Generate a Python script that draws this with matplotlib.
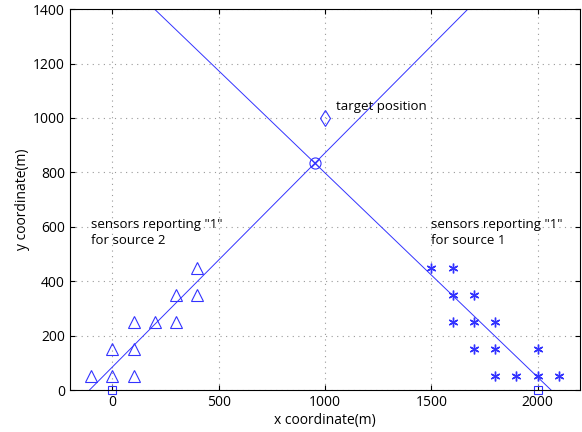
import matplotlib
matplotlib.use("Agg")
import matplotlib.pyplot as plt

# sensors reporting "1" for source 2 (triangles)
src2_x = [-100, 0, 100, 0, 100, 100, 200, 300, 300, 400, 400]
src2_y = [50, 50, 50, 150, 150, 250, 250, 250, 350, 350, 450]

# sensors reporting "1" for source 1 (stars)
src1_x = [1500, 1600, 1600, 1700, 1600, 1700, 1800, 1700, 1800, 2000, 1800, 1900, 2000, 2100]
src1_y = [450, 450, 350, 350, 250, 250, 250, 150, 150, 150, 50, 50, 50, 50]

# source positions (squares)
source_x = [0, 2000]
source_y = [0, 0]

target = (1000, 1000)
estimate = (952, 833)

# fitted lines (endpoints)
line2_x = [-108, 1672]
line2_y = [0, 1400]
line1_x = [198, 2063]
line1_y = [1400, 0]

blue = (0.2, 0.2, 1.0)

plt.rcParams['font.family'] = ['Open Sans', 'DejaVu Sans']
fig = plt.figure(figsize=(5.82, 4.32), dpi=100)
ax = fig.add_axes([0.120, 0.097, 0.877, 0.882])

ax.plot(line2_x, line2_y, '-', color=blue, lw=0.7)
ax.plot(line1_x, line1_y, '-', color=blue, lw=0.7)
ax.plot(src2_x, src2_y, '^', mfc='none', mec=blue, ms=8, mew=0.8, ls='none')
ax.plot(src1_x, src1_y, marker=(6, 2, 0), color=blue, ms=7, mew=1.0, ls='none')
ax.plot(source_x, source_y, 's', mfc='none', mec=blue, ms=6, mew=0.8, ls='none', clip_on=False)
ax.plot(*target, 'd', mfc='none', mec=blue, ms=8, mew=0.8)
ax.plot(*estimate, 'o', mfc='none', mec=blue, ms=8, mew=0.8)
ax.plot(*estimate, 'x', color=blue, ms=6, mew=0.8)

ax.text(1050, 1030, 'target position', fontsize=9.5)
ax.text(-100, 580, 'sensors reporting "1"\nfor source 2', fontsize=9.5, va='center', linespacing=1.3)
ax.text(1500, 580, 'sensors reporting "1"\nfor source 1', fontsize=9.5, va='center', linespacing=1.3)

ax.set_xlim(-200, 2200)
ax.set_ylim(0, 1400)
ax.set_xticks([0, 500, 1000, 1500, 2000])
ax.set_yticks(range(0, 1401, 200))
ax.grid(True, ls=(0, (1, 4)), color='0.6', lw=0.8)
ax.tick_params(direction='in', top=True, right=True, labelsize=10)
ax.set_xlabel('x coordinate(m)', fontsize=10, labelpad=2)
ax.set_ylabel('y coordinate(m)', fontsize=10, labelpad=2)

fig.savefig('out.png', dpi=100)
